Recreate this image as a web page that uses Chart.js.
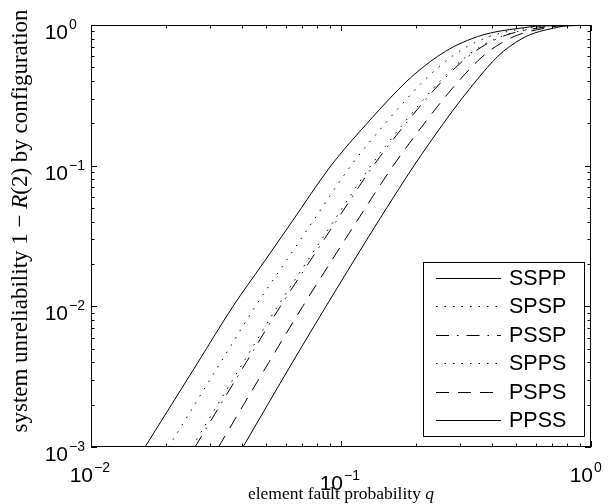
<!DOCTYPE html>
<html>
<head>
<meta charset="utf-8">
<script src="https://cdn.jsdelivr.net/npm/chart.js@4.4.1/dist/chart.umd.min.js"></script>
<style>
  html, body { margin: 0; padding: 0; background: #fff; }
</style>
</head>
<body>
<canvas id="chart" width="608" height="504"></canvas>
<script>
const unrel = [0.001, 0.002, 0.004, 0.01, 0.02, 0.04, 0.1, 0.2, 0.3, 0.4, 0.5, 0.6, 0.7, 0.8, 0.85, 0.9, 0.95, 0.98, 0.99];

const qSSPP = [0.01644, 0.02099, 0.02679, 0.03698, 0.04857, 0.06368, 0.0912, 0.1271, 0.1566, 0.1837, 0.2124, 0.2439, 0.2816, 0.3341, 0.3695, 0.4243, 0.5239, 0.60, 0.69];
const qSPSP = [0.02042, 0.02596, 0.03302, 0.04543, 0.05916, 0.07703, 0.1096, 0.1504, 0.1837, 0.2139, 0.2451, 0.2786, 0.3186, 0.373, 0.4098, 0.4653, 0.5633, 0.6375, 0.728];
const qPSSP = [0.02606, 0.03297, 0.04177, 0.05724, 0.07384, 0.09541, 0.1347, 0.182, 0.2198, 0.254, 0.2878, 0.3235, 0.3661, 0.4222, 0.46, 0.5161, 0.6115, 0.6828, 0.7732];
const qSPPS = [0.02536, 0.03211, 0.04069, 0.05579, 0.07204, 0.09318, 0.1316, 0.1781, 0.2154, 0.2492, 0.2827, 0.3182, 0.3605, 0.4167, 0.4542, 0.5102, 0.6059, 0.6776, 0.768];
const qPSPS = [0.03236, 0.04079, 0.05146, 0.07031, 0.08995, 0.1154, 0.1618, 0.2155, 0.2578, 0.2958, 0.332, 0.3694, 0.4142, 0.4716, 0.5101, 0.5657, 0.6577, 0.7256, 0.8161];
const qPPSS = [0.04055, 0.05089, 0.06397, 0.0871, 0.1105, 0.1407, 0.1959, 0.257, 0.3045, 0.3467, 0.3853, 0.4242, 0.471, 0.5291, 0.5679, 0.6229, 0.7095, 0.773, 0.863];

const labels = ['SSPP', 'SPSP', 'PSSP', 'SPPS', 'PSPS', 'PPSS'];
const series = [qSSPP, qSPSP, qPSSP, qSPPS, qPSPS, qPPSS];
const dashes = [[], [1.5, 7], [13, 8, 1.5, 8], [1.5, 7], [13, 9], []];

const xTicks = [0.01, 0.1, 1];
const yTicks = [0.001, 0.01, 0.1, 1];
const xTickExp = ['\u22122', '\u22121', '0'];
const yTickExp = ['\u22123', '\u22122', '\u22121', '0'];

function minors(decades) {
  const out = [];
  decades.forEach(d => { for (let k = 2; k <= 9; k++) out.push(d * k); });
  return out;
}

const sans = '"Liberation Sans", Arial, Helvetica, sans-serif';
const serif = '"Liberation Serif", "DejaVu Serif", serif';

function drawMixed(ctx, parts, x, y, align) {
  // parts: [text, font]
  let total = 0;
  parts.forEach(p => { ctx.font = p[1]; total += ctx.measureText(p[0]).width; });
  let cx = align === 'center' ? x - total / 2 : x;
  ctx.textAlign = 'left';
  parts.forEach(p => {
    ctx.font = p[1];
    ctx.fillText(p[0], cx, y);
    cx += ctx.measureText(p[0]).width;
  });
}

const frame = {
  id: 'frame',
  afterDraw(chart) {
    const { ctx, chartArea: a, scales } = chart;
    const xs = scales.x, ys = scales.y;
    ctx.save();
    ctx.strokeStyle = '#000';
    ctx.fillStyle = '#000';
    ctx.lineWidth = 1;
    ctx.setLineDash([]);

    // ticks, inward on all four sides
    const tick = (px, len, vertical) => {
      ctx.beginPath();
      if (vertical) {
        ctx.moveTo(px, a.bottom); ctx.lineTo(px, a.bottom - len);
        ctx.moveTo(px, a.top); ctx.lineTo(px, a.top + len);
      } else {
        ctx.moveTo(a.left, px); ctx.lineTo(a.left + len, px);
        ctx.moveTo(a.right, px); ctx.lineTo(a.right - len, px);
      }
      ctx.stroke();
    };
    xTicks.forEach(v => tick(Math.round(xs.getPixelForValue(v)) + 0.5, 6, true));
    minors([0.01, 0.1]).forEach(v => tick(Math.round(xs.getPixelForValue(v)) + 0.5, 3.5, true));
    yTicks.forEach(v => tick(Math.round(ys.getPixelForValue(v)) + 0.5, 6, false));
    minors([0.001, 0.01, 0.1]).forEach(v => tick(Math.round(ys.getPixelForValue(v)) + 0.5, 3.5, false));

    ctx.strokeRect(a.left + 0.5, a.top + 0.5, a.right - a.left - 1, a.bottom - a.top - 1);

    // tick labels 10^n
    ctx.textBaseline = 'alphabetic';
    const baseFont = '21px ' + sans, expFont = '14px ' + sans;
    yTicks.forEach((v, i) => {
      const py = ys.getPixelForValue(v);
      ctx.font = baseFont; ctx.textAlign = 'right';
      ctx.fillText('10', 68, py + 14);
      ctx.font = expFont; ctx.textAlign = 'left';
      ctx.fillText(yTickExp[i], 69, py + 4);
    });
    xTicks.forEach((v, i) => {
      const px = xs.getPixelForValue(v);
      const yb = i === 1 ? 490 : 482;
      ctx.font = baseFont; ctx.textAlign = 'right';
      ctx.fillText('10', px + 2, yb);
      ctx.font = expFont; ctx.textAlign = 'left';
      ctx.fillText(xTickExp[i], px + 3, yb - 10);
    });

    // axis titles
    drawMixed(ctx, [['element fault probability ', '17.5px ' + serif], ['q', 'italic 17.5px ' + serif]],
      (a.left + a.right) / 2, 499, 'center');
    ctx.save();
    ctx.translate(27, 221);
    ctx.rotate(-Math.PI / 2);
    drawMixed(ctx, [['system unreliability 1 \u2212 ', '23px ' + serif], ['R', 'italic 23px ' + serif],
      ['(2) by configuration', '23px ' + serif]], 0, 0, 'center');
    ctx.restore();

    // legend box
    const lx = 423, ly = 262, lw = 161, lh = 174;
    ctx.fillStyle = '#fff';
    ctx.fillRect(lx, ly, lw, lh);
    ctx.strokeRect(lx + 0.5, ly + 0.5, lw, lh);
    ctx.fillStyle = '#000';
    ctx.font = '21.5px ' + sans;
    ctx.textBaseline = 'middle';
    ctx.textAlign = 'left';
    chart.data.datasets.forEach((ds, i) => {
      const cy = Math.round(ly + 16 + i * 28.4) + 0.5;
      ctx.beginPath();
      ctx.setLineDash(ds.borderDash);
      ctx.moveTo(436, cy); ctx.lineTo(501, cy);
      ctx.stroke();
      ctx.setLineDash([]);
      ctx.fillText(ds.label, 509, cy + 1);
    });
    ctx.restore();
  }
};

new Chart(document.getElementById('chart'), {
  type: 'line',
  data: {
    datasets: series.map((qs, i) => ({
      label: labels[i],
      data: qs.map((q, j) => ({ x: q, y: unrel[j] })),
      borderColor: '#000',
      borderWidth: 1,
      borderDash: dashes[i],
      pointRadius: 0,
      fill: false,
      cubicInterpolationMode: 'monotone'
    }))
  },
  options: {
    responsive: false,
    animation: false,
    layout: { padding: { left: 91, right: 17, top: 25, bottom: 57 } },
    plugins: { legend: { display: false }, tooltip: { enabled: false } },
    scales: {
      x: { type: 'logarithmic', min: 0.01, max: 1, display: false },
      y: { type: 'logarithmic', min: 0.001, max: 1, display: false }
    }
  },
  plugins: [frame]
});
</script>
</body>
</html>
